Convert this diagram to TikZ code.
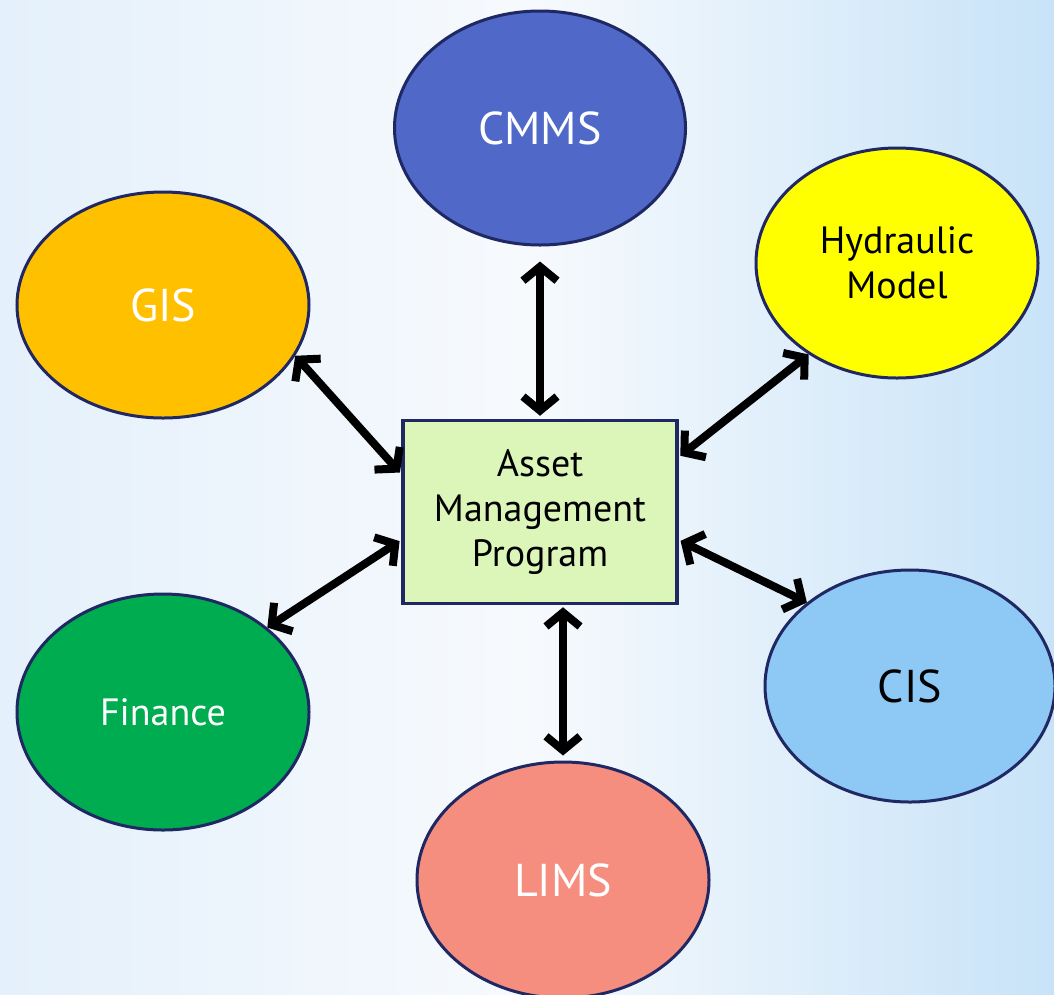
\documentclass[tikz,border=0pt]{standalone}
\usepackage{fontspec}
\setmainfont{PT Sans}
\usetikzlibrary{shapes.geometric,arrows.meta}
\definecolor{navy}{RGB}{32,40,100}
\definecolor{cmmsC}{RGB}{80,104,200}
\definecolor{gisC}{RGB}{255,192,0}
\definecolor{hydC}{RGB}{255,255,0}
\definecolor{finC}{RGB}{0,172,80}
\definecolor{cisC}{RGB}{142,200,244}
\definecolor{limsC}{RGB}{246,142,128}
\definecolor{boxC}{RGB}{220,246,186}
\definecolor{bgL}{RGB}{228,240,251}
\definecolor{bgM}{RGB}{247,250,253}
\definecolor{bgR}{RGB}{200,227,248}
\tikzset{
  sys/.style={ellipse,draw=navy,line width=3pt,inner sep=0pt},
  twoway/.style={draw=black,line width=8pt,
    {Straight Barb[length=14pt,width=34pt]}-{Straight Barb[length=14pt,width=34pt]}},
  big/.style={font=\fontsize{46}{52}\selectfont},
  small/.style={font=\fontsize{38}{45}\selectfont,align=center}}
\begin{document}
\begin{tikzpicture}[x=1pt,y=-1pt]
\useasboundingbox (0,0) rectangle (1054,994);
\shade[left color=bgL,right color=bgR,middle color=bgM] (0,0) rectangle (1054,994);
\node[sys,fill=cmmsC,minimum width=291pt,minimum height=234pt,text=white,big] (cmms) at (540,128) {CMMS};
\node[sys,fill=gisC,minimum width=292pt,minimum height=226pt,text=white,big] (gis) at (163,305) {GIS};
\node[sys,fill=hydC,minimum width=282pt,minimum height=230pt,text=black,small] (hyd) at (897,263) {Hydraulic\\Model};
\node[sys,fill=finC,minimum width=292pt,minimum height=236pt,text=white,small] (fin) at (163,712) {Finance};
\node[sys,fill=cisC,minimum width=290pt,minimum height=232pt,text=black,big] (cis) at (910,686) {CIS};
\node[sys,fill=limsC,minimum width=292pt,minimum height=236pt,text=white,big] (lims) at (563,880) {LIMS};
\node[draw=navy,fill=boxC,line width=3.5pt,minimum width=274pt,minimum height=183pt,inner sep=0pt,small] (amp) at (540,512) {Asset\\Management\\Program};
\draw[twoway,shorten <=15pt,shorten >=3pt] (cmms.south) -- (amp.north);
\draw[twoway,shorten >=2pt] (gis.-21) -- ([yshift=38pt]amp.west);
\draw[twoway,shorten >=2pt] (hyd.226) -- ([yshift=55pt]amp.east);
\draw[twoway,shorten >=2pt] (fin.39) -- ([yshift=-28pt]amp.west);
\draw[twoway,shorten >=2pt] (cis.141) -- ([yshift=-28pt]amp.east);
\draw[twoway,shorten <=2pt,shorten >=5pt] ([xshift=23pt]amp.south) -- (lims.north);
\end{tikzpicture}
\end{document}
